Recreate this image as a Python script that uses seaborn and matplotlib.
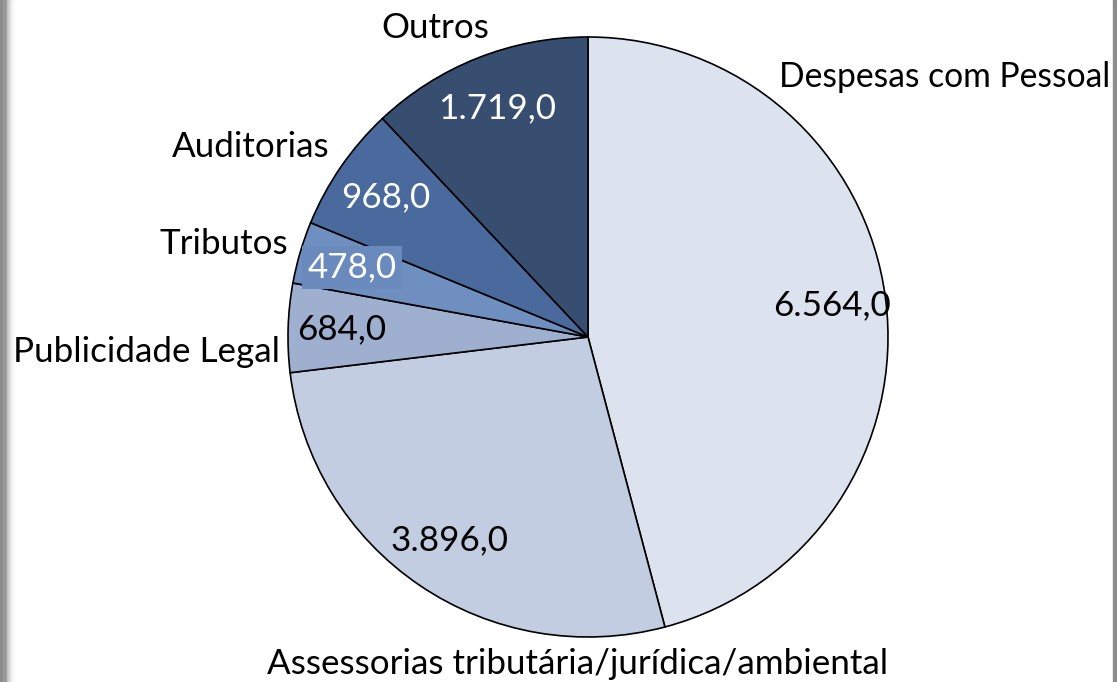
import matplotlib
matplotlib.use("Agg")
import matplotlib.pyplot as plt
from matplotlib.patches import Rectangle
import seaborn as sns

# chart data
categories = ["Despesas com Pessoal", "Assessorias tributária/jurídica/ambiental",
              "Publicidade Legal", "Tributos", "Auditorias", "Outros"]
values = [6564.0, 3896.0, 684.0, 478.0, 968.0, 1719.0]
colors = ["#dce3ef", "#c3cde1", "#9eafd0", "#6f8fc0", "#4a6a9d", "#384e70"]
value_colors = ["black", "black", "black", "white", "white", "white"]

# where the category names sit (pixels from top-left) and their alignment
label_layout = [(779, 77, "left"), (578, 664, "center"), (280, 352, "right"),
                (288, 244, "right"), (330, 147, "right"), (435, 28, "center")]

W, H = 1117, 682
CX, CY, R = 588, 337, 300

sns.set_theme(style="white")
plt.rcParams["font.family"] = ["Lato", "DejaVu Sans"]


def br_format(v):
    s = f"{v:,.1f}"
    return s.replace(",", "X").replace(".", ",").replace("X", ".")


total = sum(values)

fig = plt.figure(figsize=(W / 100, H / 100), dpi=100)
ax = fig.add_axes([0, 0, 1, 1])

wedges, texts, autotexts = ax.pie(
    values, labels=categories, colors=colors, startangle=90, counterclock=False,
    center=(CX, H - CY), radius=R, pctdistance=0.82,
    autopct=lambda p: br_format(round(p * total / 100)),
    wedgeprops=dict(edgecolor="black", linewidth=1.2),
    textprops=dict(fontsize=25.2),
)

for t, (x, y, ha) in zip(texts, label_layout):
    t.set_position((x, H - y))
    t.set_ha(ha)
    t.set_va("center")
    t.set_color("black")
# the long label at the right edge has to fit inside the frame
texts[0].set_fontsize(24.2)

for t, c in zip(autotexts, value_colors):
    t.set_color(c)
    t.set_ha("center")
    t.set_va("center")

# little box behind the Tributos value, as in the original
autotexts[3].set_bbox(dict(facecolor="#6a8abd", edgecolor="none", pad=4))

ax.set_xlim(0, W)
ax.set_ylim(0, H)
ax.set_aspect("equal")
ax.axis("off")

# grey frame on the sides
for i, g in enumerate([0.55, 0.55, 0.55, 0.6, 0.6, 0.6, 0.6, 0.75, 0.8, 0.84, 0.88, 0.92, 0.95, 0.98]):
    fig.patches.append(Rectangle((i / W, 0), 1 / W, 1, transform=fig.transFigure,
                                 color=str(g), zorder=10))
fig.patches.append(Rectangle((1113 / W, 0), 4 / W, 1, transform=fig.transFigure,
                             color="0.55", zorder=10))

fig.savefig("out.png", dpi=100)
